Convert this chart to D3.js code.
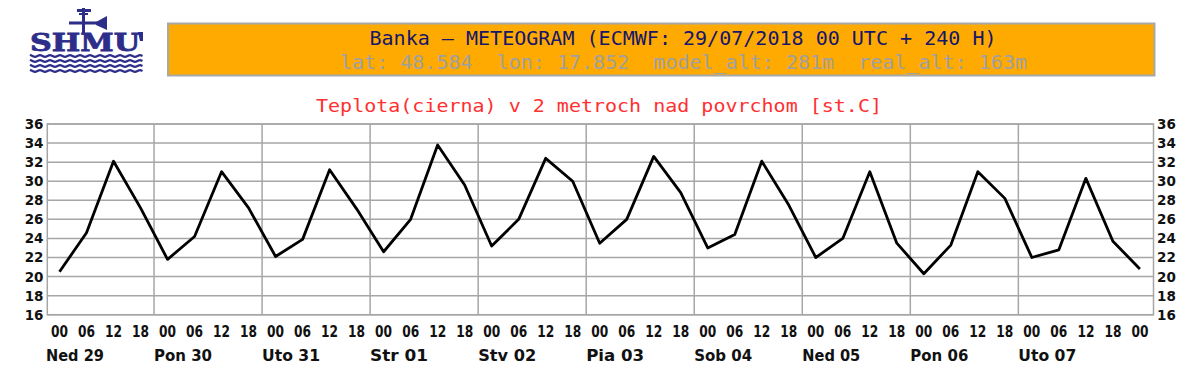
<!DOCTYPE html>
<html><head><meta charset="utf-8">
<script src="https://cdn.jsdelivr.net/npm/d3@7"></script>
<style>html,body{margin:0;padding:0;background:#fff;}svg{display:block;}</style>
</head><body>
<script>
// ---- data ----
const hours = [0,6,12,18,24,30,36,42,48,54,60,66,72,78,84,90,96,102,108,114,120,126,132,138,144,150,156,162,168,174,180,186,192,198,204,210,216,222,228,234,240];
const temps = [20.5,24.6,32.1,27.2,21.8,24.2,31.0,27.2,22.1,23.9,31.2,27.1,22.6,26.0,33.8,29.6,23.2,26.0,32.4,30.0,23.5,26.0,32.6,28.8,23.0,24.4,32.1,27.5,22.0,24.0,31.0,23.5,20.3,23.3,31.0,28.2,22.0,22.8,30.3,23.7,20.8];
const hourLabels = ["00","06","12","18"];
const dayLabels = ["Ned 29","Pon 30","Uto 31","Str 01","Stv 02","Pia 03","Sob 04","Ned 05","Pon 06","Uto 07"];
const yTicks = [16,18,20,22,24,26,28,30,32,34,36];
const headerLine1 = "Banka \u2013 METEOGRAM (ECMWF: 29/07/2018 00 UTC + 240 H)";
const headerLine2 = "lat: 48.584  lon: 17.852  model_alt: 281m  real_alt: 163m";
const chartTitle = "Teplota(cierna) v 2 metroch nad povrchom [st.C]";

// ---- layout ----
const W = 1200, H = 379;
const plot = {left: 47.3, right: 1153.5, top: 124, bottom: 314.7};
const svg = d3.select("body").append("svg").attr("width", W).attr("height", H);
svg.append("rect").attr("width", W).attr("height", H).attr("fill", "#fff");

const x = d3.scaleLinear().domain([0, 240]).range([59.5, 1139.9]);
const y = d3.scaleLinear().domain([16, 36]).range([plot.bottom, plot.top]);

// ---- logo ----
const logo = svg.append("g").attr("fill", "#2d2d8a").attr("stroke", "none");
logo.append("rect").attr("x", 82).attr("y", 8).attr("width", 3).attr("height", 25);
logo.append("rect").attr("x", 77).attr("y", 9).attr("width", 14).attr("height", 3);
logo.append("rect").attr("x", 79).attr("y", 13).attr("width", 9).attr("height", 2);
logo.append("rect").attr("x", 69).attr("y", 21.5).attr("width", 30).attr("height", 3);
logo.append("path").attr("d", "M96,22 L107,16 L107,30 L96,25 Z");
logo.append("text").attr("x", 30).attr("y", 51)
  .attr("font-family", "DejaVu Serif").attr("font-weight", "bold").attr("font-size", 24)
  .attr("stroke", "#2d2d8a").attr("stroke-width", 0.8)
  .attr("textLength", 110).attr("lengthAdjust", "spacingAndGlyphs").text("SHMU");
logo.append("path").attr("d", "M138,32 L143,32 L143,41 L140,41 Z");
const waveLine = d3.line().curve(d3.curveBasis);
[56, 61, 66, 71].forEach(wy => {
  const pts = d3.range(30, 144, 2.5).map((px, i) => [px, wy + (i % 4 === 0 ? -1.3 : i % 4 === 2 ? 1.3 : 0)]);
  logo.append("path").attr("d", waveLine(pts)).attr("fill", "none")
    .attr("stroke", "#2d2d8a").attr("stroke-width", 2.2);
});

// ---- header box ----
svg.append("rect").attr("x", 168).attr("y", 23.5).attr("width", 986.5).attr("height", 52)
  .attr("fill", "#ffaa00").attr("stroke", "#a8a8a8").attr("stroke-width", 2);
svg.append("text").attr("x", 683).attr("y", 44.5).attr("text-anchor", "middle")
  .attr("font-family", "DejaVu Sans Mono").attr("font-size", 19).attr("fill", "#16166a")
  .attr("textLength", 627).attr("lengthAdjust", "spacingAndGlyphs")
  .attr("xml:space", "preserve").text(headerLine1);
svg.append("text").attr("x", 683.5).attr("y", 69).attr("text-anchor", "middle")
  .attr("font-family", "DejaVu Sans Mono").attr("font-size", 19).attr("fill", "#a0a0a0")
  .attr("textLength", 687).attr("lengthAdjust", "spacingAndGlyphs")
  .attr("xml:space", "preserve").text(headerLine2);

// ---- chart title ----
svg.append("text").attr("x", 599).attr("y", 111.5).attr("text-anchor", "middle")
  .attr("font-family", "DejaVu Sans Mono").attr("font-size", 18.5).attr("fill", "#ff3030")
  .attr("textLength", 566).attr("lengthAdjust", "spacingAndGlyphs").text(chartTitle);

// ---- grid ----
const grid = svg.append("g").attr("stroke", "#a6a6a6").attr("stroke-width", 1.5).attr("fill", "none");
grid.selectAll("line.h").data(yTicks).join("line")
  .attr("x1", plot.left).attr("x2", plot.right)
  .attr("y1", d => y(d)).attr("y2", d => y(d));
const dayStarts = dayLabels.map((d, i) => 24 * i - 3);
grid.selectAll("line.v").data(dayStarts.slice(1)).join("line")
  .attr("x1", d => x(d)).attr("x2", d => x(d))
  .attr("y1", plot.top).attr("y2", plot.bottom);
grid.append("rect").attr("x", plot.left).attr("y", plot.top)
  .attr("width", plot.right - plot.left).attr("height", plot.bottom - plot.top);

// ---- y labels (both sides) ----
const tickFont = "DejaVu Sans";
svg.append("g").selectAll("text").data(yTicks).join("text")
  .attr("x", 43.5).attr("y", d => y(d) + 5).attr("text-anchor", "end")
  .attr("font-family", tickFont).attr("font-weight", "bold").attr("font-size", 13.5)
  .attr("fill", "#111").text(d => d);
svg.append("g").selectAll("text").data(yTicks).join("text")
  .attr("x", 1157).attr("y", d => y(d) + 5).attr("text-anchor", "start")
  .attr("font-family", tickFont).attr("font-weight", "bold").attr("font-size", 13.5)
  .attr("fill", "#111").text(d => d);

// ---- x labels ----
svg.append("g").selectAll("text").data(hours).join("text")
  .attr("x", d => x(d)).attr("y", 336.5).attr("text-anchor", "middle")
  .attr("font-family", tickFont).attr("font-weight", "bold").attr("font-size", 15)
  .attr("textLength", 17).attr("lengthAdjust", "spacingAndGlyphs")
  .attr("fill", "#111").text(d => hourLabels[(d / 6) % 4]);
svg.append("g").selectAll("text").data(dayLabels).join("text")
  .attr("x", (d, i) => x(dayStarts[i])).attr("y", 360.5).attr("text-anchor", "start")
  .attr("font-family", tickFont).attr("font-weight", "bold").attr("font-size", 15)
  .attr("textLength", 58).attr("lengthAdjust", "spacingAndGlyphs")
  .attr("xml:space", "preserve")
  .attr("fill", "#111").text(d => d);

// ---- temperature line ----
const line = d3.line().x((d, i) => x(hours[i])).y(d => y(d));
svg.append("path").datum(temps).attr("d", line).attr("fill", "none")
  .attr("stroke", "#000").attr("stroke-width", 2.8).attr("stroke-linejoin", "round");
</script>
</body></html>
